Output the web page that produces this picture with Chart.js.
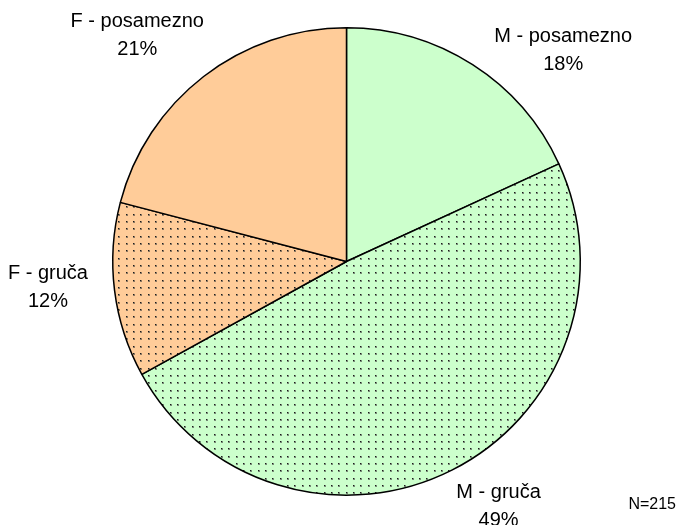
<!DOCTYPE html>
<html>
<head>
<meta charset="utf-8">
<script src="https://cdn.jsdelivr.net/npm/chart.js@4/dist/chart.umd.min.js"></script>
<style>
  html, body { margin: 0; padding: 0; background: #fff; }
  #wrap { position: relative; width: 677px; height: 525px; }
</style>
</head>
<body>
<div id="wrap"><canvas id="pie" width="677" height="525"></canvas></div>
<script>
// --- podatki ---
const kategorije = ['M - posamezno', 'M - gruča', 'F - gruča', 'F - posamezno'];
const odstotki = [18, 49, 12, 21];
const stevila = [39, 105, 26, 45];
const skupaj = 'N=215';

// --- vzorci (pike) ---
function vzorec(barva, pike) {
    const tile = document.createElement('canvas');
    tile.width = 22; tile.height = 22;
    const c = tile.getContext('2d');
    c.fillStyle = barva;
    c.fillRect(0, 0, 22, 22);
    if (pike) {
        const pos = [1, 8, 16];
        pos.forEach(x => pos.forEach(y => {
            c.fillStyle = 'rgba(60,60,60,0.6)';
            c.fillRect(x, y, 2, 2);
            c.fillStyle = '#1a1a1a';
            c.fillRect(x, y, 1, 1);
        }));
    }
    return document.createElement('canvas').getContext('2d').createPattern(tile, 'repeat');
}

const zelena = '#CCFFCC';
const oranzna = '#FFCC99';
const polnila = [zelena, vzorec(zelena, true), vzorec(oranzna, true), oranzna];

// zamik oznak: [kot v stopinjah glede na sredino loka, razdalja / polmer]
const zamikOznak = [[13.1, 1.294], [-5.0, 1.235], [2.2, 1.282], [-5.1, 1.318]];

const oznake = {
    id: 'oznake',
    afterDatasetsDraw(chart) {
        const ctx = chart.ctx;
        const meta = chart.getDatasetMeta(0);
        ctx.save();
        ctx.font = '20px "Liberation Sans", Arial, sans-serif';
        ctx.fillStyle = '#000';
        ctx.textAlign = 'center';
        ctx.textBaseline = 'middle';
        meta.data.forEach((arc, i) => {
            const p = arc.getProps(['x', 'y', 'startAngle', 'endAngle', 'outerRadius'], true);
            const kot = (p.startAngle + p.endAngle) / 2 + zamikOznak[i][0] * Math.PI / 180;
            const r = p.outerRadius * zamikOznak[i][1];
            const x = p.x + Math.cos(kot) * r;
            const y = p.y + Math.sin(kot) * r;
            ctx.fillText(kategorije[i], x, y - 14);
            ctx.fillText(odstotki[i] + '%', x, y + 14);
        });
        ctx.font = '16px "Liberation Sans", Arial, sans-serif';
        ctx.textAlign = 'right';
        ctx.fillText(skupaj, 676, 505);
        ctx.restore();
    }
};

new Chart(document.getElementById('pie'), {
    type: 'pie',
    data: {
        labels: kategorije,
        datasets: [{
            data: stevila,
            backgroundColor: polnila,
            borderColor: '#000',
            borderWidth: 1.5
        }]
    },
    options: {
        responsive: false,
        animation: false,
        layout: { padding: { left: 112, right: 96, top: 27, bottom: 29 } },
        plugins: {
            legend: { display: false },
            tooltip: { enabled: false }
        }
    },
    plugins: [oznake]
});
</script>
</body>
</html>
